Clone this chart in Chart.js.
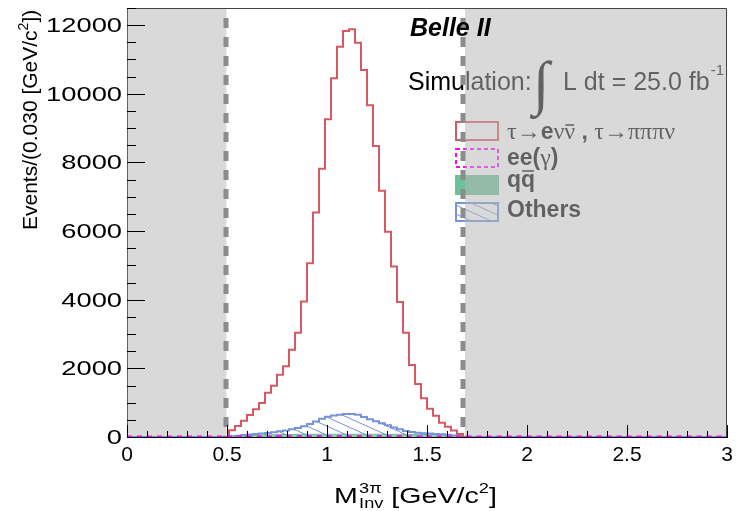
<!DOCTYPE html>
<html>
<head>
<meta charset="utf-8">
<script src="https://cdn.jsdelivr.net/npm/chart.js@4.4.1/dist/chart.umd.min.js"></script>
<style>
html, body { margin: 0; padding: 0; background: #fff; }
</style>
</head>
<body>
<canvas id="myChart" width="748" height="511"></canvas>
<script>
// bins of 0.030 GeV/c^2, first listed bin starts at 0.48 (everything outside is empty)
var binWidth = 0.03;
var firstBin = 0.48;

var signal = [0, 200, 320, 475, 640, 810, 990, 1290, 1490, 1815, 2060, 2545, 3040, 3945, 5060, 6545, 7815, 9260, 10450, 11370,
    11830, 11880, 11490, 10690, 9670, 8480, 7175, 5980, 4970, 3935, 3040, 2100, 1545, 1130, 820, 620, 417, 300, 190, 90, 0];
var others = [5, 25, 40, 55, 70, 85, 100, 120, 140, 165, 190, 225, 265, 310, 380, 450, 530, 590, 625, 650,
    670, 670, 645, 585, 520, 460, 400, 340, 280, 225, 175, 145, 125, 110, 100, 90, 80, 65, 45, 25, 5];
var qqbar = [0, 10, 20, 30, 40, 50, 55, 60, 65, 70, 72, 75, 78, 80, 80, 80, 80, 80, 80, 80,
    80, 80, 80, 80, 80, 80, 80, 78, 78, 76, 75, 72, 70, 70, 70, 70, 65, 60, 50, 40, 10];
var eeGamma = [0, 0, 0, 0, 2, 2, 3, 3, 3, 4, 4, 4, 4, 5, 5, 5, 5, 5, 5, 5,
    5, 5, 5, 5, 5, 5, 4, 4, 4, 4, 3, 3, 3, 2, 2, 2, 0, 0, 0, 0, 0];

var xTickLabels = ["0", "0.5", "1", "1.5", "2", "2.5", "3"];
var yTickValues = [0, 2000, 4000, 6000, 8000, 10000, 12000];
var yTickLabels = ["0", "2000", "4000", "6000", "8000", "10000", "12000"];

var xRange = [0, 3];
var yRange = [0, 12500];
var cutLow = 0.495;
var cutHigh = 1.68;
var vetoLow = [0, 0.497];
var vetoHigh = [1.69, 3];

var RED = 'rgb(214,88,96)';
var BLUE = 'rgb(118,148,214)';
var GREEN = 'rgb(110,192,150)';
var MAGENTA = '#ff00ff';
var SANS = '"Liberation Sans", Arial, sans-serif';
var SERIF = '"Liberation Serif", "DejaVu Serif", serif';

function histPoints(values, full) {
    var pts = [];
    if (full) pts.push({ x: xRange[0], y: 0 });
    pts.push({ x: firstBin, y: 0 });
    values.forEach(function (v, i) {
        pts.push({ x: +(firstBin + i * binWidth).toFixed(2), y: v });
    });
    pts.push({ x: +(firstBin + values.length * binWidth).toFixed(2), y: 0 });
    if (full) pts.push({ x: xRange[1], y: 0 });
    return pts;
}

function makeHatch() {
    var c = document.createElement('canvas');
    c.width = 20;
    c.height = 9;
    var g = c.getContext('2d');
    g.strokeStyle = BLUE;
    g.lineWidth = 1;
    for (var k = -1; k <= 1; k++) {
        g.beginPath();
        g.moveTo(-20, -9 + k * 9);
        g.lineTo(40, 18 + k * 9);
        g.stroke();
    }
    return g.createPattern(c, 'repeat');
}
var hatch = makeHatch();

// draws a run of text pieces one after another
function drawRun(ctx, x, y, parts) {
    parts.forEach(function (p) {
        ctx.font = p.font;
        var w = ctx.measureText(p.t).width;
        ctx.fillText(p.t, x, y + (p.dy || 0));
        if (p.bar) {
            ctx.save();
            ctx.lineWidth = 1.5;
            ctx.strokeStyle = ctx.fillStyle;
            ctx.beginPath();
            ctx.moveTo(x + 1, y + p.bar);
            ctx.lineTo(x + w - 1, y + p.bar);
            ctx.stroke();
            ctx.restore();
        }
        x += w + (p.gap || 0);
    });
    return x;
}

// text stretched horizontally, like the ROOT output
function stretched(ctx, sx, x, y, fn) {
    ctx.save();
    ctx.translate(x, y);
    ctx.scale(sx, 1);
    fn();
    ctx.restore();
}

var decorations = {
    id: 'decorations',
    beforeDatasetsDraw: function (chart) {
        var ctx = chart.ctx, a = chart.chartArea;
        var xs = chart.scales.x;
        ctx.save();
        ctx.fillStyle = '#000';
        ctx.textBaseline = 'alphabetic';
        ctx.textAlign = 'left';

        // simulation label
        var x = drawRun(ctx, 408, 90, [{ t: 'Simulation:', font: '25px ' + SANS, gap: 2 }]);
        ctx.font = '60px ' + SERIF;
        ctx.fillText('\u222B', x - 1, 103);
        x = drawRun(ctx, 563, 90, [{ t: 'L dt = 25.0 fb', font: '25px ' + SANS }]);
        drawRun(ctx, x + 1, 75, [{ t: '-1', font: '15px ' + SANS }]);

        // legend
        var bx = 456, bw = 42, bh = 18;
        ctx.lineWidth = 2;
        ctx.strokeStyle = RED;
        ctx.strokeRect(bx, 122, bw, bh);
        ctx.setLineDash([4, 3]);
        ctx.strokeStyle = MAGENTA;
        ctx.strokeRect(bx, 149, bw, bh);
        ctx.setLineDash([]);
        ctx.fillStyle = GREEN;
        ctx.fillRect(bx - 1, 175, bw + 2, bh + 2);
        ctx.fillStyle = hatch;
        ctx.fillRect(bx, 203, bw, bh);
        ctx.strokeStyle = BLUE;
        ctx.strokeRect(bx, 203, bw, bh);

        ctx.fillStyle = '#000';
        var B = 'bold 23px ' + SANS, S = '24px ' + SERIF;
        drawRun(ctx, 507, 139, [
            { t: '\u03C4\u2192', font: S }, { t: 'e', font: B }, { t: '\u03BD', font: S },
            { t: '\u03BD', font: S, bar: -14 }, { t: ' , ', font: B }, { t: '\u03C4\u2192\u03C0\u03C0\u03C0\u03BD', font: S }
        ]);
        drawRun(ctx, 507, 165, [{ t: 'ee(', font: B }, { t: '\u03B3', font: S }, { t: ')', font: B }]);
        drawRun(ctx, 507, 187, [{ t: 'q', font: B }, { t: 'q', font: B, bar: -16 }]);
        drawRun(ctx, 507, 217, [{ t: 'Others', font: B }]);

        // vetoed regions
        ctx.fillStyle = 'rgba(183,183,183,0.53)';
        [vetoLow, vetoHigh].forEach(function (r) {
            var x0 = xs.getPixelForValue(r[0]), x1 = xs.getPixelForValue(r[1]);
            ctx.fillRect(x0, a.top, x1 - x0, a.bottom - a.top);
        });

        // cut lines
        ctx.strokeStyle = '#8c8c8c';
        ctx.lineWidth = 5;
        ctx.setLineDash([10, 9]);
        [cutLow, cutHigh].forEach(function (c) {
            var px = xs.getPixelForValue(c);
            ctx.beginPath();
            ctx.moveTo(px, a.top + 10);
            ctx.lineTo(px, a.bottom);
            ctx.stroke();
        });
        ctx.restore();
    },
    afterDraw: function (chart) {
        var ctx = chart.ctx, a = chart.chartArea;
        var xs = chart.scales.x, ys = chart.scales.y;
        ctx.save();
        // frame
        ctx.strokeStyle = '#444';
        ctx.lineWidth = 1;
        ctx.beginPath();
        ctx.moveTo(a.left, a.top + 0.5);
        ctx.lineTo(a.right - 0.5, a.top + 0.5);
        ctx.lineTo(a.right - 0.5, a.bottom);
        ctx.stroke();

        // inward ticks
        ctx.strokeStyle = '#000';
        ctx.beginPath();
        for (var i = 0; i <= 30; i++) {
            var px = Math.round(xs.getPixelForValue(i / 10)) + 0.5;
            var len = (i % 5 === 0) ? 12 : 6;
            ctx.moveTo(px, a.bottom);
            ctx.lineTo(px, a.bottom - len);
        }
        for (var j = 0; j <= 25; j++) {
            var py = Math.round(ys.getPixelForValue(j * 500)) + 0.5;
            var l2 = (j % 4 === 0) ? 18 : 9;
            ctx.moveTo(a.left, py);
            ctx.lineTo(a.left + l2, py);
        }
        ctx.stroke();

        ctx.fillStyle = '#000';
        ctx.textBaseline = 'alphabetic';

        // y tick labels
        ctx.textAlign = 'right';
        ctx.font = '21px ' + SANS;
        yTickValues.forEach(function (v, k) {
            stretched(ctx, 1.3, a.left - 5, ys.getPixelForValue(v) + 7, function () {
                ctx.fillText(yTickLabels[k], 0, 0);
            });
        });

        ctx.textAlign = 'left';
        ctx.font = 'italic bold 25px ' + SANS;
        ctx.fillText('Belle II', 410, 36);

        // y axis title
        ctx.save();
        ctx.translate(37, 230);
        ctx.rotate(-Math.PI / 2);
        var x = drawRun(ctx, 0, 0, [{ t: 'Events/(0.030 [GeV/c', font: '21px ' + SANS }]);
        x = drawRun(ctx, x, -9, [{ t: '2', font: '14px ' + SANS }]);
        drawRun(ctx, x, 0, [{ t: '])', font: '21px ' + SANS }]);
        ctx.restore();

        // x axis title
        stretched(ctx, 1.3, 334, 503, function () {
            var x = drawRun(ctx, 0, 0, [{ t: 'M', font: '22px ' + SANS }]);
            drawRun(ctx, x + 1, -10, [{ t: '3\u03C0', font: '14px ' + SANS }]);
            x = drawRun(ctx, x + 1, 5, [{ t: 'Inv', font: '14px ' + SANS }]);
            x = drawRun(ctx, x, 0, [{ t: ' [GeV/c', font: '22px ' + SANS }]);
            x = drawRun(ctx, x, -10, [{ t: '2', font: '14px ' + SANS }]);
            drawRun(ctx, x, 0, [{ t: ']', font: '22px ' + SANS }]);
        });
        ctx.restore();
    }
};

var ctx = document.getElementById('myChart').getContext('2d');
var chart = new Chart(ctx, {
    type: 'line',
    data: {
        datasets: [{
            label: 'ee(\u03B3)',
            data: histPoints(eeGamma, true),
            borderColor: MAGENTA,
            borderWidth: 3,
            borderDash: [5, 5],
            fill: false
        }, {
            label: '\u03C4\u2192e\u03BD\u03BD, \u03C4\u2192\u03C0\u03C0\u03C0\u03BD',
            data: histPoints(signal, false),
            borderColor: RED,
            borderWidth: 2,
            fill: false
        }, {
            label: 'Others',
            data: histPoints(others, true),
            borderColor: BLUE,
            borderWidth: 2,
            backgroundColor: hatch,
            fill: 'origin'
        }, {
            label: 'qq',
            data: histPoints(qqbar, true),
            borderColor: GREEN,
            borderWidth: 1,
            backgroundColor: 'rgba(110,192,150,0.8)',
            fill: 'origin'
        }]
    },
    options: {
        responsive: false,
        devicePixelRatio: 1,
        animation: false,
        elements: {
            line: { stepped: true, tension: 0 },
            point: { radius: 0, hoverRadius: 0 }
        },
        layout: { padding: { top: 8, right: 21, left: 0, bottom: 0 } },
        scales: {
            x: {
                type: 'linear',
                min: xRange[0],
                max: xRange[1],
                grid: { display: false, drawTicks: false },
                border: { display: true, color: '#000', width: 1 },
                ticks: {
                    stepSize: 0.5,
                    includeBounds: false,
                    autoSkip: false,
                    maxRotation: 0,
                    padding: 6,
                    color: '#000',
                    font: { family: SANS, size: 21 },
                    callback: function (value) {
                        return xTickLabels[Math.round(value / 0.5)];
                    }
                },
                afterFit: function (scale) {
                    scale.height = 74;
                    scale.paddingLeft = 0;
                    scale.paddingRight = 0;
                }
            },
            y: {
                type: 'linear',
                min: yRange[0],
                max: yRange[1],
                grid: { display: false, drawTicks: false },
                border: { display: true, color: '#000', width: 1 },
                ticks: {
                    stepSize: 2000,
                    includeBounds: false,
                    display: false
                },
                afterFit: function (scale) {
                    scale.width = 127;
                    scale.paddingTop = 0;
                    scale.paddingBottom = 0;
                }
            }
        },
        plugins: {
            legend: { display: false },
            tooltip: { enabled: false },
            title: { display: false }
        }
    },
    plugins: [decorations]
});
</script>
</body>
</html>
